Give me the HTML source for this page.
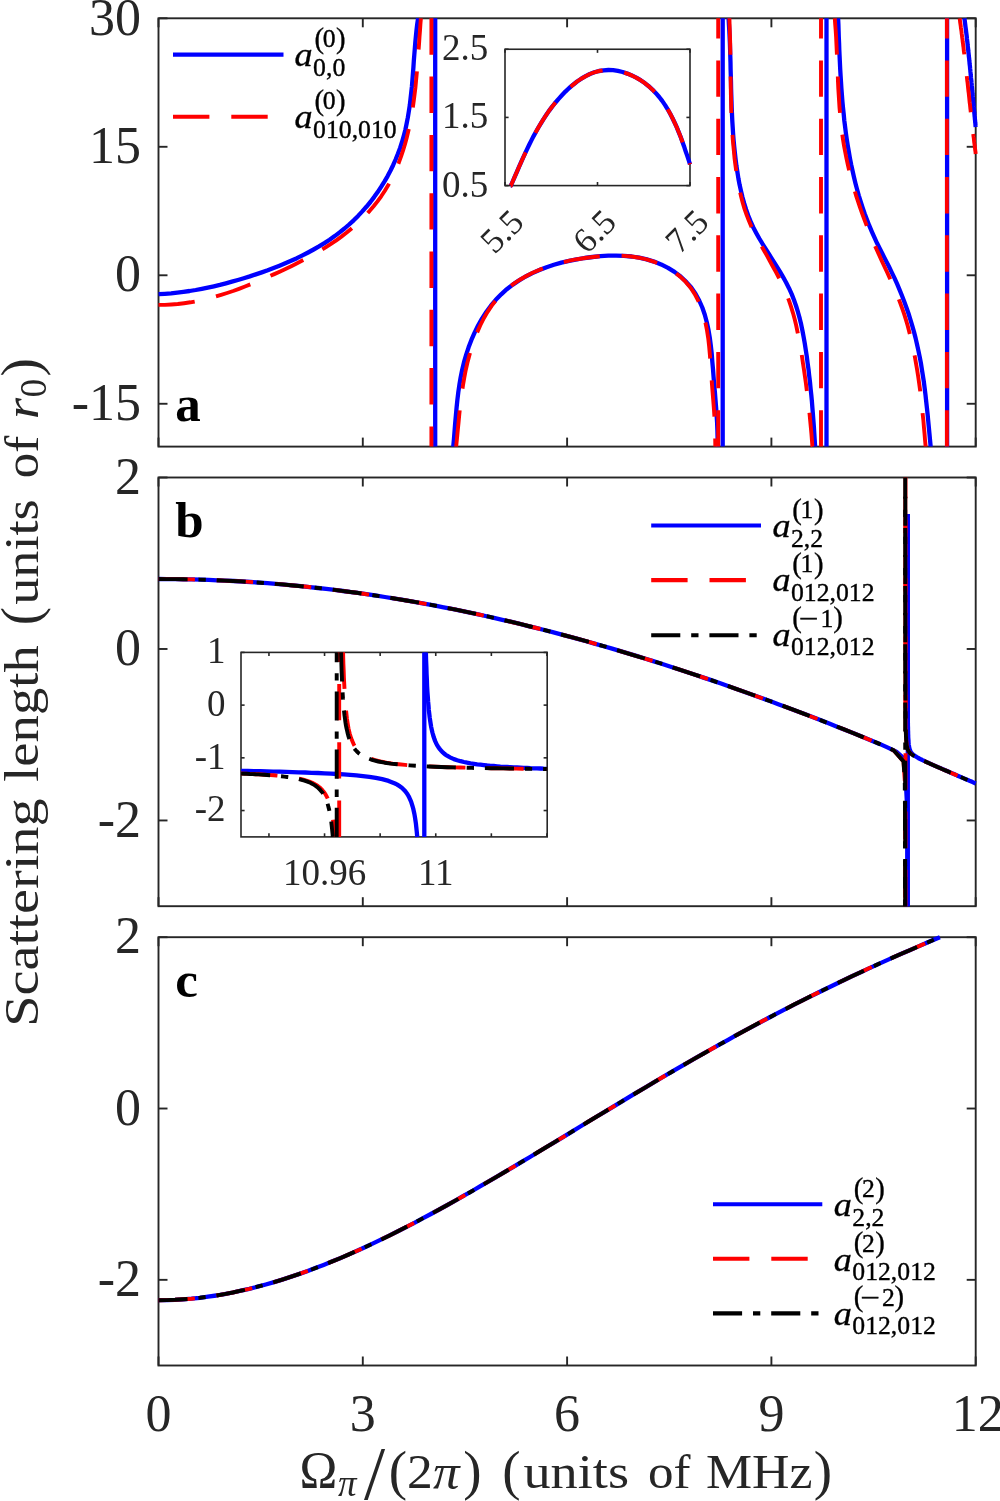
<!DOCTYPE html>
<html lang="en"><head><meta charset="utf-8"><title>Scattering length figure</title>
<style>html,body{margin:0;padding:0;background:#fff}svg{display:block;will-change:transform}text{font-family:'Liberation Serif', 'Times New Roman', Times, serif}</style></head><body>
<svg width="1000" height="1501" viewBox="0 0 1000 1501">
<rect width="1000" height="1501" fill="#fff"/>
<defs>
<clipPath id="clip_a"><rect x="155.50" y="15.30" width="823.20" height="434.30"/></clipPath>
<clipPath id="clip_b"><rect x="155.50" y="474.50" width="823.20" height="434.70"/></clipPath>
<clipPath id="clip_c"><rect x="155.50" y="934.20" width="823.20" height="434.30"/></clipPath>
<clipPath id="clip_ia"><rect x="502.50" y="46.75" width="190.00" height="141.35"/></clipPath>
<clipPath id="clip_ib"><rect x="238.50" y="649.90" width="311.20" height="189.50"/></clipPath>
</defs>
<!-- axes boxes and ticks -->
<rect x="158.50" y="18.30" width="817.20" height="428.30" fill="none" stroke="#262626" stroke-width="1.90"/>
<line x1="158.50" y1="446.60" x2="158.50" y2="437.60" stroke="#262626" stroke-width="1.90"/>
<line x1="158.50" y1="18.30" x2="158.50" y2="27.30" stroke="#262626" stroke-width="1.90"/>
<line x1="362.80" y1="446.60" x2="362.80" y2="437.60" stroke="#262626" stroke-width="1.90"/>
<line x1="362.80" y1="18.30" x2="362.80" y2="27.30" stroke="#262626" stroke-width="1.90"/>
<line x1="567.10" y1="446.60" x2="567.10" y2="437.60" stroke="#262626" stroke-width="1.90"/>
<line x1="567.10" y1="18.30" x2="567.10" y2="27.30" stroke="#262626" stroke-width="1.90"/>
<line x1="771.40" y1="446.60" x2="771.40" y2="437.60" stroke="#262626" stroke-width="1.90"/>
<line x1="771.40" y1="18.30" x2="771.40" y2="27.30" stroke="#262626" stroke-width="1.90"/>
<line x1="975.70" y1="446.60" x2="975.70" y2="437.60" stroke="#262626" stroke-width="1.90"/>
<line x1="975.70" y1="18.30" x2="975.70" y2="27.30" stroke="#262626" stroke-width="1.90"/>
<line x1="158.50" y1="403.77" x2="167.50" y2="403.77" stroke="#262626" stroke-width="1.90"/>
<line x1="975.70" y1="403.77" x2="966.70" y2="403.77" stroke="#262626" stroke-width="1.90"/>
<line x1="158.50" y1="275.28" x2="167.50" y2="275.28" stroke="#262626" stroke-width="1.90"/>
<line x1="975.70" y1="275.28" x2="966.70" y2="275.28" stroke="#262626" stroke-width="1.90"/>
<line x1="158.50" y1="146.79" x2="167.50" y2="146.79" stroke="#262626" stroke-width="1.90"/>
<line x1="975.70" y1="146.79" x2="966.70" y2="146.79" stroke="#262626" stroke-width="1.90"/>
<line x1="158.50" y1="18.30" x2="167.50" y2="18.30" stroke="#262626" stroke-width="1.90"/>
<line x1="975.70" y1="18.30" x2="966.70" y2="18.30" stroke="#262626" stroke-width="1.90"/>
<rect x="158.50" y="477.50" width="817.20" height="428.70" fill="none" stroke="#262626" stroke-width="1.90"/>
<line x1="158.50" y1="906.20" x2="158.50" y2="897.20" stroke="#262626" stroke-width="1.90"/>
<line x1="158.50" y1="477.50" x2="158.50" y2="486.50" stroke="#262626" stroke-width="1.90"/>
<line x1="362.80" y1="906.20" x2="362.80" y2="897.20" stroke="#262626" stroke-width="1.90"/>
<line x1="362.80" y1="477.50" x2="362.80" y2="486.50" stroke="#262626" stroke-width="1.90"/>
<line x1="567.10" y1="906.20" x2="567.10" y2="897.20" stroke="#262626" stroke-width="1.90"/>
<line x1="567.10" y1="477.50" x2="567.10" y2="486.50" stroke="#262626" stroke-width="1.90"/>
<line x1="771.40" y1="906.20" x2="771.40" y2="897.20" stroke="#262626" stroke-width="1.90"/>
<line x1="771.40" y1="477.50" x2="771.40" y2="486.50" stroke="#262626" stroke-width="1.90"/>
<line x1="975.70" y1="906.20" x2="975.70" y2="897.20" stroke="#262626" stroke-width="1.90"/>
<line x1="975.70" y1="477.50" x2="975.70" y2="486.50" stroke="#262626" stroke-width="1.90"/>
<line x1="158.50" y1="820.46" x2="167.50" y2="820.46" stroke="#262626" stroke-width="1.90"/>
<line x1="975.70" y1="820.46" x2="966.70" y2="820.46" stroke="#262626" stroke-width="1.90"/>
<line x1="158.50" y1="648.98" x2="167.50" y2="648.98" stroke="#262626" stroke-width="1.90"/>
<line x1="975.70" y1="648.98" x2="966.70" y2="648.98" stroke="#262626" stroke-width="1.90"/>
<line x1="158.50" y1="477.50" x2="167.50" y2="477.50" stroke="#262626" stroke-width="1.90"/>
<line x1="975.70" y1="477.50" x2="966.70" y2="477.50" stroke="#262626" stroke-width="1.90"/>
<rect x="158.50" y="937.20" width="817.20" height="428.30" fill="none" stroke="#262626" stroke-width="1.90"/>
<line x1="158.50" y1="1365.50" x2="158.50" y2="1356.50" stroke="#262626" stroke-width="1.90"/>
<line x1="158.50" y1="937.20" x2="158.50" y2="946.20" stroke="#262626" stroke-width="1.90"/>
<line x1="362.80" y1="1365.50" x2="362.80" y2="1356.50" stroke="#262626" stroke-width="1.90"/>
<line x1="362.80" y1="937.20" x2="362.80" y2="946.20" stroke="#262626" stroke-width="1.90"/>
<line x1="567.10" y1="1365.50" x2="567.10" y2="1356.50" stroke="#262626" stroke-width="1.90"/>
<line x1="567.10" y1="937.20" x2="567.10" y2="946.20" stroke="#262626" stroke-width="1.90"/>
<line x1="771.40" y1="1365.50" x2="771.40" y2="1356.50" stroke="#262626" stroke-width="1.90"/>
<line x1="771.40" y1="937.20" x2="771.40" y2="946.20" stroke="#262626" stroke-width="1.90"/>
<line x1="975.70" y1="1365.50" x2="975.70" y2="1356.50" stroke="#262626" stroke-width="1.90"/>
<line x1="975.70" y1="937.20" x2="975.70" y2="946.20" stroke="#262626" stroke-width="1.90"/>
<line x1="158.50" y1="1279.84" x2="167.50" y2="1279.84" stroke="#262626" stroke-width="1.90"/>
<line x1="975.70" y1="1279.84" x2="966.70" y2="1279.84" stroke="#262626" stroke-width="1.90"/>
<line x1="158.50" y1="1108.52" x2="167.50" y2="1108.52" stroke="#262626" stroke-width="1.90"/>
<line x1="975.70" y1="1108.52" x2="966.70" y2="1108.52" stroke="#262626" stroke-width="1.90"/>
<line x1="158.50" y1="937.20" x2="167.50" y2="937.20" stroke="#262626" stroke-width="1.90"/>
<line x1="975.70" y1="937.20" x2="966.70" y2="937.20" stroke="#262626" stroke-width="1.90"/>
<g clip-path="url(#clip_a)">
<path d="M158.6 294.2 L164.8 293.8 L171.1 293.3 L177.3 292.6 L183.4 291.8 L189.6 291.0 L195.7 290.0 L201.8 288.8 L207.8 287.6 L213.9 286.3 L219.9 284.9 L225.9 283.3 L231.9 281.7 L237.9 280.0 L243.8 278.2 L249.8 276.4 L255.8 274.4 L261.8 272.4 L267.7 270.3 L273.6 268.0 L279.5 265.7 L285.3 263.3 L291.1 260.8 L296.9 258.2 L302.5 255.4 L308.1 252.5 L313.6 249.5 L319.0 246.4 L324.4 243.1 L329.6 239.7 L334.7 236.1 L339.6 232.4 L344.5 228.5 L349.1 224.5 L353.7 220.3 L358.1 215.9 L362.3 211.4 L366.4 206.8 L370.4 202.0 L374.1 197.1 L377.7 192.1 L381.1 186.9 L384.4 181.6 L387.5 176.3 L390.4 170.8 L393.1 165.2 L395.6 159.5 L397.9 153.8 L400.1 147.9 L402.0 142.0 L403.7 136.0 L405.3 130.0 L406.6 123.8 L407.8 117.7 L408.8 111.5 L409.8 105.2 L410.5 99.0 L411.2 92.7 L411.9 86.4 L412.4 80.1 L412.9 73.8 L413.4 67.5 L413.8 61.2 L414.3 54.9 L414.8 48.7 L415.3 42.5 L415.9 36.3 L416.5 30.2 L417.2 24.2 L418.1 18.3" fill="none" stroke="#0000ff" stroke-width="4.30" stroke-linejoin="round"/>
<path d="M453.3 446.6 L453.3 446.3 L454.0 438.4 L454.6 430.6 L455.2 422.8 L455.9 415.1 L456.6 407.5 L457.4 399.8 L458.3 392.2 L459.4 384.7 L460.7 377.2 L462.2 369.7 L464.0 362.2 L466.2 354.7 L468.6 347.3 L471.4 339.9 L474.6 332.6 L478.1 325.5 L482.0 318.6 L486.3 312.0 L490.9 305.7 L495.8 299.8 L501.2 294.3 L506.8 289.2 L512.8 284.6 L519.1 280.4 L525.6 276.5 L532.4 273.1 L539.4 270.0 L546.6 267.2 L553.9 264.8 L561.4 262.6 L569.1 260.8 L576.8 259.3 L584.6 258.0 L592.5 257.0 L600.4 256.2 L608.3 255.7 L616.1 255.6 L623.9 255.8 L631.6 256.5 L639.2 257.7 L646.7 259.4 L654.0 261.6 L661.1 264.4 L668.0 267.9 L674.5 271.9 L680.6 276.5 L686.2 281.8 L691.2 287.5 L695.5 293.8 L699.2 300.5 L702.3 307.5 L704.8 314.8 L706.8 322.3 L708.5 330.0 L709.8 337.8 L710.8 345.6 L711.7 353.5 L712.3 361.5 L713.0 369.3 L713.6 377.1 L714.2 384.8 L714.9 392.3 L715.5 399.9 L716.1 407.4 L716.6 415.0 L717.1 422.6 L717.4 430.3 L717.6 438.2 L717.6 446.2 L717.6 446.6" fill="none" stroke="#0000ff" stroke-width="4.30" stroke-linejoin="round"/>
<path d="M728.6 18.3 L728.9 24.1 L729.3 30.5 L729.6 36.9 L729.9 43.3 L730.1 49.7 L730.3 56.1 L730.5 62.6 L730.6 69.0 L730.8 75.5 L731.0 82.0 L731.1 88.4 L731.3 94.9 L731.5 101.4 L731.7 107.8 L732.0 114.3 L732.3 120.8 L732.7 127.2 L733.1 133.7 L733.6 140.1 L734.2 146.5 L734.9 152.9 L735.6 159.3 L736.4 165.7 L737.4 172.1 L738.4 178.5 L739.6 184.8 L741.0 191.0 L742.5 197.3 L744.2 203.4 L746.1 209.5 L748.2 215.5 L750.6 221.4 L753.2 227.2 L756.2 232.9 L759.3 238.5 L762.6 244.0 L766.0 249.5 L769.5 255.0 L772.9 260.4 L776.4 265.9 L779.8 271.4 L783.0 276.9 L786.1 282.5 L789.0 288.2 L791.7 294.1 L794.0 300.0 L796.1 306.0 L798.0 312.2 L799.7 318.4 L801.2 324.6 L802.5 331.0 L803.7 337.3 L804.8 343.7 L805.8 350.1 L806.8 356.5 L807.6 362.9 L808.5 369.3 L809.2 375.8 L810.0 382.2 L810.6 388.6 L811.3 395.0 L811.9 401.4 L812.4 407.8 L812.9 414.2 L813.4 420.7 L813.9 427.1 L814.3 433.5 L814.7 439.9 L815.1 446.3 L815.1 446.6" fill="none" stroke="#0000ff" stroke-width="4.30" stroke-linejoin="round"/>
<path d="M838.1 18.3 L838.4 24.4 L838.6 30.7 L838.8 37.1 L839.1 43.5 L839.3 49.9 L839.6 56.3 L839.9 62.7 L840.2 69.2 L840.6 75.6 L841.0 82.0 L841.4 88.4 L841.9 94.9 L842.4 101.3 L843.0 107.7 L843.7 114.1 L844.3 120.5 L845.1 126.8 L845.9 133.2 L846.8 139.5 L847.8 145.9 L848.9 152.2 L850.0 158.5 L851.2 164.7 L852.6 171.0 L854.0 177.2 L855.5 183.4 L857.1 189.5 L858.8 195.6 L860.7 201.7 L862.7 207.8 L864.7 213.8 L867.0 219.8 L869.3 225.7 L871.8 231.6 L874.4 237.4 L877.1 243.3 L880.0 249.0 L882.9 254.8 L885.8 260.5 L888.8 266.3 L891.6 272.1 L894.4 277.9 L897.0 283.7 L899.5 289.6 L901.9 295.5 L904.2 301.5 L906.4 307.5 L908.5 313.5 L910.4 319.6 L912.2 325.7 L914.0 331.9 L915.6 338.1 L917.0 344.3 L918.4 350.6 L919.7 356.9 L920.9 363.2 L921.9 369.5 L922.9 375.9 L923.9 382.2 L924.7 388.6 L925.5 395.0 L926.2 401.4 L926.9 407.8 L927.6 414.2 L928.2 420.6 L928.8 427.0 L929.4 433.3 L930.0 439.7 L930.6 446.0 L930.6 446.6" fill="none" stroke="#0000ff" stroke-width="4.30" stroke-linejoin="round"/>
<path d="M964.4 18.3 L964.6 19.6 L964.8 21.1 L965.0 22.7 L965.2 24.3 L965.4 25.9 L965.6 27.5 L965.8 29.0 L966.0 30.6 L966.2 32.2 L966.4 33.8 L966.6 35.3 L966.8 36.9 L966.9 38.5 L967.1 40.1 L967.3 41.6 L967.5 43.2 L967.6 44.8 L967.8 46.4 L968.0 48.0 L968.2 49.5 L968.3 51.1 L968.5 52.7 L968.7 54.3 L968.8 55.9 L969.0 57.4 L969.2 59.0 L969.3 60.6 L969.5 62.2 L969.6 63.8 L969.8 65.3 L970.0 66.9 L970.1 68.5 L970.3 70.1 L970.4 71.7 L970.6 73.2 L970.7 74.8 L970.9 76.4 L971.0 78.0 L971.2 79.6 L971.4 81.1 L971.5 82.7 L971.7 84.3 L971.8 85.9 L972.0 87.5 L972.1 89.1 L972.2 90.6 L972.4 92.2 L972.5 93.8 L972.7 95.4 L972.8 97.0 L973.0 98.5 L973.1 100.1 L973.3 101.7 L973.4 103.3 L973.6 104.9 L973.7 106.4 L973.9 108.0 L974.0 109.6 L974.2 111.2 L974.3 112.8 L974.5 114.4 L974.6 115.9 L974.8 117.5 L974.9 119.1 L975.1 120.7 L975.2 122.3 L975.4 123.8 L975.5 125.4 L975.7 127.0" fill="none" stroke="#0000ff" stroke-width="4.30" stroke-linejoin="round"/>
<line x1="435.2" y1="18.3" x2="435.2" y2="446.6" stroke="#0000ff" stroke-width="4.30"/>
<line x1="722.7" y1="18.3" x2="722.7" y2="446.6" stroke="#0000ff" stroke-width="4.30"/>
<line x1="826.5" y1="18.3" x2="826.5" y2="446.6" stroke="#0000ff" stroke-width="4.30"/>
<line x1="947.1" y1="18.3" x2="947.1" y2="446.6" stroke="#0000ff" stroke-width="4.30"/>
<path d="M158.5 304.9 L164.9 304.9 L171.4 304.5 L177.8 304.0 L184.1 303.2 L190.4 302.3 L196.7 301.2 L202.8 299.8 L209.0 298.4 L215.1 296.7 L221.1 294.9 L227.1 293.0 L233.1 291.0 L239.0 288.8 L245.0 286.5 L250.9 284.2 L256.7 281.8 L262.6 279.2 L268.5 276.7 L274.3 274.1 L280.2 271.4 L286.0 268.7 L291.8 265.9 L297.6 263.0 L303.3 260.1 L309.0 257.1 L314.6 253.9 L320.2 250.7 L325.6 247.4 L331.0 243.9 L336.3 240.3 L341.4 236.6 L346.4 232.8 L351.3 228.7 L356.1 224.6 L360.7 220.2 L365.2 215.7 L369.5 211.1 L373.6 206.3 L377.5 201.4 L381.2 196.3 L384.7 191.0 L388.0 185.6 L391.0 180.1 L393.8 174.4 L396.4 168.6 L398.8 162.7 L401.0 156.7 L403.0 150.7 L404.9 144.5 L406.6 138.3 L408.1 132.1 L409.5 125.8 L410.8 119.5 L411.9 113.2 L412.9 106.9 L413.8 100.5 L414.6 94.2 L415.4 87.8 L416.0 81.4 L416.6 75.0 L417.2 68.7 L417.7 62.3 L418.2 55.9 L418.6 49.6 L419.1 43.2 L419.5 36.9 L420.0 30.6 L420.4 24.4 L420.9 18.3" fill="none" stroke="#ff0000" stroke-width="3.90" stroke-linejoin="round" stroke-dasharray="36.4 21.9"/>
<path d="M456.2 446.6 L456.2 446.3 L457.0 438.4 L457.7 430.7 L458.5 423.0 L459.2 415.3 L460.0 407.7 L460.9 400.2 L461.9 392.7 L463.0 385.2 L464.3 377.7 L465.7 370.2 L467.4 362.7 L469.4 355.2 L471.6 347.7 L474.1 340.2 L477.0 332.8 L480.2 325.5 L483.7 318.5 L487.6 311.8 L491.9 305.4 L496.6 299.4 L501.7 293.9 L507.3 288.9 L513.1 284.2 L519.4 280.0 L525.9 276.2 L532.6 272.8 L539.7 269.7 L546.9 267.0 L554.3 264.6 L561.8 262.5 L569.5 260.7 L577.2 259.2 L585.0 258.0 L592.9 257.0 L600.7 256.2 L608.5 255.7 L616.3 255.6 L624.0 255.9 L631.6 256.5 L639.1 257.7 L646.5 259.3 L653.7 261.6 L660.8 264.4 L667.6 267.8 L674.1 271.9 L680.2 276.6 L685.7 281.9 L690.6 287.7 L694.8 294.1 L698.3 300.9 L701.2 308.0 L703.5 315.3 L705.5 322.8 L707.0 330.4 L708.2 338.1 L709.1 346.0 L709.8 353.8 L710.4 361.6 L710.9 369.4 L711.5 377.2 L712.0 384.8 L712.6 392.3 L713.2 399.8 L713.8 407.3 L714.3 414.9 L714.7 422.5 L715.0 430.2 L715.2 438.0 L715.3 446.0 L715.3 446.6" fill="none" stroke="#ff0000" stroke-width="3.90" stroke-linejoin="round" stroke-dasharray="36.4 21.9"/>
<path d="M729.4 18.3 L729.6 24.1 L729.8 30.5 L730.0 36.8 L730.2 43.2 L730.3 49.6 L730.4 56.0 L730.5 62.4 L730.6 68.9 L730.6 75.3 L730.7 81.7 L730.8 88.2 L730.9 94.6 L731.1 101.1 L731.2 107.5 L731.4 113.9 L731.7 120.4 L732.0 126.8 L732.4 133.2 L732.8 139.6 L733.4 146.0 L734.0 152.4 L734.6 158.8 L735.4 165.1 L736.3 171.5 L737.3 177.8 L738.4 184.1 L739.7 190.4 L741.1 196.6 L742.7 202.8 L744.5 208.9 L746.6 214.9 L748.9 220.8 L751.4 226.7 L754.1 232.4 L757.1 238.1 L760.2 243.7 L763.3 249.3 L766.5 254.9 L769.6 260.6 L772.7 266.2 L775.8 271.8 L778.8 277.5 L781.6 283.3 L784.3 289.1 L786.8 294.9 L789.1 300.9 L791.1 306.9 L793.0 313.1 L794.7 319.2 L796.2 325.5 L797.5 331.8 L798.8 338.1 L800.0 344.5 L801.0 350.8 L802.1 357.2 L803.0 363.5 L804.0 369.9 L804.9 376.2 L805.8 382.6 L806.6 388.9 L807.4 395.3 L808.2 401.6 L808.9 408.0 L809.6 414.4 L810.2 420.7 L810.8 427.1 L811.4 433.5 L811.9 439.9 L812.4 446.3 L812.5 446.6" fill="none" stroke="#ff0000" stroke-width="3.90" stroke-linejoin="round" stroke-dasharray="36.4 21.9"/>
<path d="M834.8 18.3 L835.2 24.4 L835.7 30.7 L836.1 37.0 L836.4 43.4 L836.7 49.8 L837.0 56.2 L837.2 62.6 L837.5 69.0 L837.8 75.4 L838.0 81.9 L838.3 88.3 L838.7 94.7 L839.1 101.1 L839.5 107.5 L840.1 113.9 L840.7 120.3 L841.3 126.7 L842.1 133.1 L843.0 139.4 L844.0 145.7 L845.2 152.0 L846.4 158.2 L847.8 164.5 L849.2 170.7 L850.8 176.9 L852.4 183.0 L854.2 189.2 L856.0 195.3 L858.0 201.3 L860.0 207.4 L862.1 213.4 L864.3 219.4 L866.6 225.4 L869.0 231.3 L871.4 237.3 L873.9 243.2 L876.4 249.0 L879.1 254.9 L881.7 260.7 L884.4 266.5 L887.1 272.3 L889.8 278.1 L892.4 283.9 L895.0 289.8 L897.4 295.7 L899.7 301.6 L901.9 307.6 L904.0 313.6 L905.9 319.7 L907.7 325.8 L909.3 332.0 L910.9 338.2 L912.3 344.4 L913.6 350.7 L914.9 357.0 L916.0 363.3 L917.1 369.6 L918.1 376.0 L919.0 382.3 L919.9 388.7 L920.7 395.1 L921.4 401.5 L922.1 407.8 L922.7 414.2 L923.4 420.6 L923.9 426.9 L924.5 433.3 L925.0 439.6 L925.6 446.0 L925.6 446.6" fill="none" stroke="#ff0000" stroke-width="3.90" stroke-linejoin="round" stroke-dasharray="36.4 21.9"/>
<path d="M959.6 18.3 L959.9 20.0 L960.1 21.9 L960.4 23.9 L960.7 25.9 L960.9 27.8 L961.2 29.8 L961.5 31.8 L961.7 33.7 L962.0 35.7 L962.2 37.7 L962.5 39.6 L962.7 41.6 L963.0 43.6 L963.2 45.6 L963.5 47.5 L963.7 49.5 L963.9 51.5 L964.2 53.4 L964.4 55.4 L964.6 57.4 L964.9 59.3 L965.1 61.3 L965.3 63.3 L965.6 65.3 L965.8 67.2 L966.0 69.2 L966.2 71.2 L966.5 73.1 L966.7 75.1 L966.9 77.1 L967.1 79.1 L967.3 81.0 L967.6 83.0 L967.8 85.0 L968.0 87.0 L968.2 88.9 L968.4 90.9 L968.7 92.9 L968.9 94.8 L969.1 96.8 L969.3 98.8 L969.5 100.8 L969.7 102.7 L970.0 104.7 L970.2 106.7 L970.4 108.7 L970.6 110.6 L970.8 112.6 L971.1 114.6 L971.3 116.5 L971.5 118.5 L971.7 120.5 L972.0 122.5 L972.2 124.4 L972.4 126.4 L972.6 128.4 L972.9 130.4 L973.1 132.3 L973.3 134.3 L973.5 136.3 L973.8 138.2 L974.0 140.2 L974.2 142.2 L974.5 144.2 L974.7 146.1 L975.0 148.1 L975.2 150.1 L975.5 152.0 L975.7 154.0" fill="none" stroke="#ff0000" stroke-width="3.90" stroke-linejoin="round" stroke-dasharray="36.4 21.9"/>
<path d="M431.4 18.3 L431.4 446.6" fill="none" stroke="#ff0000" stroke-width="3.90" stroke-dasharray="36.4 21.9"/>
<path d="M718.2 446.6 L718.2 18.3" fill="none" stroke="#ff0000" stroke-width="3.90" stroke-dasharray="36.4 21.9"/>
<path d="M821.0 446.6 L821.0 18.3" fill="none" stroke="#ff0000" stroke-width="3.90" stroke-dasharray="36.4 21.9"/>
<path d="M946.9 446.6 L946.9 18.3" fill="none" stroke="#ff0000" stroke-width="3.90" stroke-dasharray="36.4 21.9"/>
</g>
<rect x="505.00" y="49.25" width="185.00" height="136.35" fill="#fff" stroke="#262626" stroke-width="1.60"/>
<line x1="505.00" y1="185.60" x2="505.00" y2="182.00" stroke="#262626" stroke-width="1.60"/>
<line x1="505.00" y1="49.25" x2="505.00" y2="52.85" stroke="#262626" stroke-width="1.60"/>
<line x1="597.50" y1="185.60" x2="597.50" y2="182.00" stroke="#262626" stroke-width="1.60"/>
<line x1="597.50" y1="49.25" x2="597.50" y2="52.85" stroke="#262626" stroke-width="1.60"/>
<line x1="690.00" y1="185.60" x2="690.00" y2="182.00" stroke="#262626" stroke-width="1.60"/>
<line x1="690.00" y1="49.25" x2="690.00" y2="52.85" stroke="#262626" stroke-width="1.60"/>
<line x1="505.00" y1="49.25" x2="508.60" y2="49.25" stroke="#262626" stroke-width="1.60"/>
<line x1="690.00" y1="49.25" x2="686.40" y2="49.25" stroke="#262626" stroke-width="1.60"/>
<line x1="505.00" y1="117.42" x2="508.60" y2="117.42" stroke="#262626" stroke-width="1.60"/>
<line x1="690.00" y1="117.42" x2="686.40" y2="117.42" stroke="#262626" stroke-width="1.60"/>
<line x1="505.00" y1="185.60" x2="508.60" y2="185.60" stroke="#262626" stroke-width="1.60"/>
<line x1="690.00" y1="185.60" x2="686.40" y2="185.60" stroke="#262626" stroke-width="1.60"/>
<g clip-path="url(#clip_ia)">
<path d="M510.8 185.6 L510.9 185.6 L512.9 181.0 L514.9 176.4 L516.9 171.8 L518.9 167.2 L520.9 162.7 L522.9 158.2 L525.0 153.7 L527.1 149.2 L529.2 144.8 L531.4 140.4 L533.6 136.1 L536.0 131.8 L538.4 127.5 L540.9 123.3 L543.5 119.1 L546.2 115.0 L549.0 110.9 L552.0 106.9 L555.1 103.0 L558.4 99.1 L561.9 95.3 L565.4 91.6 L569.2 88.0 L573.1 84.7 L577.1 81.5 L581.3 78.7 L585.6 76.2 L589.9 74.0 L594.4 72.3 L599.0 71.0 L603.7 70.3 L608.4 70.0 L613.1 70.2 L617.9 70.9 L622.6 72.0 L627.3 73.6 L631.8 75.4 L636.3 77.7 L640.6 80.2 L644.8 83.1 L648.7 86.2 L652.4 89.6 L655.9 93.2 L659.2 97.0 L662.2 100.9 L665.1 105.1 L667.7 109.3 L670.2 113.7 L672.5 118.2 L674.7 122.8 L676.8 127.4 L678.7 132.1 L680.6 136.8 L682.3 141.5 L684.0 146.2 L685.5 150.8 L687.1 155.4 L688.6 159.9 L690.0 164.3" fill="none" stroke="#0000ff" stroke-width="4.30" stroke-linejoin="round"/>
<path d="M510.8 185.6 L510.9 185.6 L512.9 181.0 L514.9 176.4 L516.9 171.8 L518.9 167.2 L520.9 162.7 L522.9 158.2 L525.0 153.7 L527.1 149.2 L529.2 144.8 L531.4 140.4 L533.6 136.1 L536.0 131.8 L538.4 127.5 L540.9 123.3 L543.5 119.1 L546.2 115.0 L549.0 110.9 L552.0 106.9 L555.1 103.0 L558.4 99.1 L561.9 95.3 L565.4 91.6 L569.2 88.0 L573.1 84.7 L577.1 81.5 L581.3 78.7 L585.6 76.2 L589.9 74.0 L594.4 72.3 L599.0 71.0 L603.7 70.3 L608.4 70.0 L613.1 70.2 L617.9 70.9 L622.6 72.0 L627.3 73.6 L631.8 75.4 L636.3 77.7 L640.6 80.2 L644.8 83.1 L648.7 86.2 L652.4 89.6 L655.9 93.2 L659.2 97.0 L662.2 100.9 L665.1 105.1 L667.7 109.3 L670.2 113.7 L672.5 118.2 L674.7 122.8 L676.8 127.4 L678.7 132.1 L680.6 136.8 L682.3 141.5 L684.0 146.2 L685.5 150.8 L687.1 155.4 L688.6 159.9 L690.0 164.3" fill="none" stroke="#ff0000" stroke-width="3.90" stroke-linejoin="round" stroke-dasharray="36.4 21.9"/>
</g>
<g clip-path="url(#clip_b)">
<path d="M158.5 579.0 L166.9 579.1 L175.3 579.1 L183.7 579.3 L192.0 579.4 L200.4 579.7 L208.8 579.9 L217.2 580.3 L225.6 580.6 L234.0 581.0 L242.3 581.5 L250.7 582.0 L259.1 582.6 L267.5 583.2 L275.9 583.9 L284.3 584.6 L292.6 585.4 L301.0 586.2 L309.4 587.1 L317.8 588.0 L326.2 588.9 L334.6 589.9 L343.0 591.0 L351.3 592.1 L359.7 593.2 L368.1 594.4 L376.5 595.7 L384.9 597.0 L393.3 598.3 L401.6 599.7 L410.0 601.1 L418.4 602.6 L426.8 604.1 L435.2 605.7 L443.6 607.3 L452.0 608.9 L460.3 610.6 L468.7 612.4 L477.1 614.2 L485.5 616.0 L493.9 617.9 L502.3 619.8 L510.6 621.7 L519.0 623.7 L527.4 625.8 L535.8 627.9 L544.2 630.0 L552.6 632.1 L560.9 634.3 L569.3 636.6 L577.7 638.9 L586.1 641.2 L594.5 643.6 L602.9 646.0 L611.3 648.4 L619.6 650.9 L628.0 653.4 L636.4 655.9 L644.8 658.5 L653.2 661.1 L661.6 663.8 L669.9 666.5 L678.3 669.2 L686.7 672.0 L695.1 674.7 L703.5 677.6 L711.9 680.4 L720.3 683.3 L728.6 686.2 L737.0 689.2 L745.4 692.2 L753.8 695.2 L762.2 698.2 L770.6 701.3 L778.9 704.4 L787.3 707.5 L795.7 710.7 L804.1 713.8 L812.5 717.1 L820.9 720.3 L829.2 723.6 L837.6 726.9 L846.0 730.2 L854.4 733.6 L862.8 737.0 L871.2 740.4 L879.6 743.9 L887.9 747.6 L896.3 751.6 L904.7 759.0 L907.2 808.3 L907.2 822.2 L907.3 839.6 L907.3 861.6 L907.3 889.2 L907.3 906.2" fill="none" stroke="#0000ff" stroke-width="4.30" stroke-linejoin="round"/>
<path d="M907.8 906.2 L907.8 514.0" fill="none" stroke="#0000ff" stroke-width="4.30" stroke-linejoin="round"/>
<path d="M907.5 514.0 L907.5 527.2 L907.5 545.0 L907.5 561.4 L907.5 576.6 L907.5 590.5 L907.5 603.4 L907.5 615.3 L907.5 626.2 L907.6 636.3 L907.6 645.5 L907.6 654.1 L907.6 662.0 L907.6 669.3 L907.6 676.0 L907.6 682.2 L907.6 687.9 L907.7 693.1 L907.7 698.0 L907.7 702.4 L907.7 706.5 L907.8 710.3 L907.8 713.8 L907.8 717.1 L907.8 720.1 L907.9 722.8 L907.9 725.3 L908.0 727.7 L908.0 729.8 L908.1 731.8 L908.1 733.7 L908.2 735.4 L908.2 736.9 L908.3 738.4 L908.4 739.7 L908.5 741.0 L908.5 742.1 L908.6 743.2 L908.7 744.2 L908.8 745.1 L909.0 746.0 L909.1 746.8 L909.2 747.5 L909.4 748.2 L909.6 748.9 L909.7 749.5 L909.9 750.0 L910.2 750.6 L910.4 751.1 L910.6 751.6 L910.9 752.1 L911.2 752.5 L911.5 752.9 L911.9 753.4 L912.2 753.8 L912.7 754.2 L913.1 754.6 L913.6 755.0 L914.1 755.4 L914.7 755.8 L915.3 756.2 L916.0 756.6 L916.7 757.1 L917.5 757.5 L918.3 758.0 L919.2 758.5 L920.2 759.0 L921.3 759.5 L922.5 760.1 L923.8 760.7 L925.2 761.4 L926.7 762.1 L928.3 762.8 L930.1 763.6 L932.0 764.5 L934.1 765.4 L936.4 766.4 L938.8 767.5 L941.5 768.6 L944.6 770.0 L947.7 771.3 L950.8 772.7 L953.9 774.0 L957.0 775.4 L960.1 776.7 L963.3 778.1 L966.4 779.4 L969.5 780.8 L972.6 782.1 L975.7 783.5" fill="none" stroke="#0000ff" stroke-width="4.30" stroke-linejoin="round"/>
<path d="M158.5 579.0 L166.8 579.1 L175.0 579.1 L183.3 579.3 L191.5 579.4 L199.8 579.6 L208.1 579.9 L216.3 580.2 L224.6 580.6 L232.8 581.0 L241.1 581.4 L249.4 581.9 L257.6 582.5 L265.9 583.1 L274.1 583.8 L282.4 584.4 L290.7 585.2 L298.9 586.0 L307.2 586.8 L315.4 587.7 L323.7 588.6 L332.0 589.6 L340.2 590.6 L348.5 591.7 L356.7 592.8 L365.0 594.0 L373.3 595.2 L381.5 596.4 L389.8 597.7 L398.1 599.1 L406.3 600.5 L414.6 601.9 L422.8 603.4 L431.1 604.9 L439.4 606.5 L447.6 608.1 L455.9 609.7 L464.1 611.4 L472.4 613.1 L480.7 614.9 L488.9 616.7 L497.2 618.6 L505.4 620.5 L513.7 622.5 L522.0 624.4 L530.2 626.5 L538.5 628.5 L546.7 630.6 L555.0 632.8 L563.3 635.0 L571.5 637.2 L579.8 639.4 L588.0 641.7 L596.3 644.1 L604.6 646.4 L612.8 648.9 L621.1 651.3 L629.3 653.8 L637.6 656.3 L645.9 658.8 L654.1 661.4 L662.4 664.0 L670.6 666.7 L678.9 669.4 L687.2 672.1 L695.4 674.8 L703.7 677.6 L711.9 680.4 L720.2 683.3 L728.5 686.2 L736.7 689.1 L745.0 692.0 L753.2 695.0 L761.5 698.0 L769.8 701.0 L778.0 704.0 L786.3 707.1 L794.5 710.2 L802.8 713.4 L811.1 716.5 L819.3 719.7 L827.6 722.9 L835.9 726.2 L844.1 729.4 L852.4 732.7 L860.6 736.1 L868.9 739.5 L877.2 742.9 L885.4 746.5 L893.7 750.4 L903.5 761.4 L904.7 779.4 L904.8 785.4 L904.9 792.9 L905.0 802.0 L905.0 813.2 L905.1 827.1 L905.1 844.2 L905.1 865.2 L905.1 891.1 L905.2 906.2" fill="none" stroke="#ff0000" stroke-width="3.90" stroke-linejoin="round" stroke-dasharray="36.4 21.9"/>
<path d="M905.5 906.2 L905.5 477.5" fill="none" stroke="#ff0000" stroke-width="3.90" stroke-linejoin="round" stroke-dasharray="36.4 21.9"/>
<path d="M905.3 496.7 L905.3 516.8 L905.3 535.4 L905.3 552.5 L905.3 568.3 L905.3 582.8 L905.3 596.2 L905.3 608.6 L905.4 619.9 L905.4 630.4 L905.4 640.1 L905.4 649.0 L905.4 657.2 L905.4 664.8 L905.4 671.8 L905.4 678.2 L905.5 684.2 L905.5 689.6 L905.5 694.7 L905.5 699.3 L905.5 703.6 L905.6 707.6 L905.6 711.2 L905.6 714.6 L905.6 717.7 L905.7 720.6 L905.7 723.2 L905.7 725.6 L905.8 727.9 L905.8 729.9 L905.9 731.9 L905.9 733.6 L906.0 735.3 L906.1 736.8 L906.1 738.2 L906.2 739.5 L906.3 740.7 L906.4 741.8 L906.5 742.8 L906.6 743.7 L906.7 744.6 L906.8 745.4 L906.9 746.2 L907.1 746.9 L907.2 747.6 L907.4 748.2 L907.6 748.8 L907.8 749.4 L908.0 749.9 L908.2 750.4 L908.5 750.9 L908.7 751.3 L909.0 751.8 L909.3 752.2 L909.7 752.6 L910.1 753.0 L910.5 753.4 L910.9 753.8 L911.4 754.2 L911.9 754.6" fill="none" stroke="#ff0000" stroke-width="3.90" stroke-linejoin="round" stroke-dasharray="36.4 21.9"/>
<path d="M911.9 754.6 L912.5 755.0 L913.1 755.4 L913.8 755.8 L914.5 756.2 L915.3 756.7 L916.1 757.1 L917.1 757.6 L918.1 758.1 L919.1 758.7 L920.3 759.2 L921.6 759.9 L923.0 760.5 L924.5 761.2 L926.1 761.9 L927.9 762.7 L929.8 763.6 L931.9 764.5 L934.2 765.5 L936.6 766.6 L939.3 767.7 L942.6 769.2 L945.9 770.6 L949.2 772.0 L952.5 773.5 L955.8 774.9 L959.2 776.3 L962.5 777.7 L965.8 779.2 L969.1 780.6 L972.4 782.0 L975.7 783.5" fill="none" stroke="#ff0000" stroke-width="3.90" stroke-linejoin="round" stroke-dasharray="36.4 21.9" stroke-dashoffset="44.4"/>
<path d="M158.5 579.0 L166.8 579.1 L175.0 579.1 L183.3 579.3 L191.5 579.4 L199.8 579.6 L208.1 579.9 L216.3 580.2 L224.6 580.6 L232.8 581.0 L241.1 581.4 L249.4 581.9 L257.6 582.5 L265.9 583.1 L274.1 583.8 L282.4 584.4 L290.7 585.2 L298.9 586.0 L307.2 586.8 L315.4 587.7 L323.7 588.6 L332.0 589.6 L340.2 590.6 L348.5 591.7 L356.7 592.8 L365.0 594.0 L373.3 595.2 L381.5 596.4 L389.8 597.7 L398.0 599.1 L406.3 600.5 L414.6 601.9 L422.8 603.4 L431.1 604.9 L439.3 606.5 L447.6 608.1 L455.9 609.7 L464.1 611.4 L472.4 613.1 L480.6 614.9 L488.9 616.7 L497.2 618.6 L505.4 620.5 L513.7 622.4 L521.9 624.4 L530.2 626.5 L538.5 628.5 L546.7 630.6 L555.0 632.8 L563.2 635.0 L571.5 637.2 L579.8 639.4 L588.0 641.7 L596.3 644.1 L604.5 646.4 L612.8 648.8 L621.1 651.3 L629.3 653.8 L637.6 656.3 L645.8 658.8 L654.1 661.4 L662.4 664.0 L670.6 666.7 L678.9 669.4 L687.1 672.1 L695.4 674.8 L703.6 677.6 L711.9 680.4 L720.2 683.3 L728.4 686.2 L736.7 689.1 L744.9 692.0 L753.2 695.0 L761.5 698.0 L769.7 701.0 L778.0 704.0 L786.2 707.1 L794.5 710.2 L802.8 713.3 L811.0 716.5 L819.3 719.7 L827.5 722.9 L835.8 726.1 L844.1 729.4 L852.3 732.7 L860.6 736.1 L868.8 739.5 L877.1 742.9 L885.4 746.5 L893.6 750.3 L903.5 761.4 L904.7 779.4 L904.8 785.4 L904.8 792.8 L904.9 802.0 L905.0 813.2 L905.0 827.1 L905.0 844.1 L905.1 865.2 L905.1 891.1 L905.1 906.2" fill="none" stroke="#000000" stroke-width="3.90" stroke-linejoin="round" stroke-dasharray="29.1 10.9 7.3 10.9"/>
<path d="M905.2 906.2 L905.2 477.5" fill="none" stroke="#000000" stroke-width="3.90" stroke-linejoin="round" stroke-dasharray="29.1 10.9 7.3 10.9"/>
<path d="M905.3 496.7 L905.3 516.8 L905.3 535.4 L905.3 552.5 L905.3 568.3 L905.3 582.8 L905.3 596.2 L905.3 608.5 L905.3 619.9 L905.3 630.4 L905.3 640.1 L905.3 649.0 L905.3 657.2 L905.4 664.8 L905.4 671.8 L905.4 678.2 L905.4 684.1 L905.4 689.6 L905.4 694.7 L905.5 699.3 L905.5 703.6 L905.5 707.6 L905.5 711.2 L905.6 714.6 L905.6 717.7 L905.6 720.5 L905.7 723.2 L905.7 725.6 L905.7 727.9 L905.8 729.9 L905.8 731.8 L905.9 733.6 L905.9 735.2 L906.0 736.8 L906.1 738.1 L906.1 739.4 L906.2 740.6 L906.3 741.7 L906.4 742.8 L906.5 743.7 L906.6 744.6 L906.7 745.4 L906.9 746.2 L907.0 746.9 L907.2 747.6 L907.3 748.2 L907.5 748.8 L907.7 749.4 L907.9 749.9 L908.2 750.4 L908.4 750.8 L908.7 751.3 L909.0 751.7 L909.3 752.2 L909.6 752.6 L910.0 753.0 L910.4 753.4 L910.9 753.8 L911.4 754.2" fill="none" stroke="#000000" stroke-width="3.90" stroke-linejoin="round" stroke-dasharray="29.1 10.9 7.3 10.9"/>
<path d="M911.4 754.2 L911.9 754.6 L912.4 755.0 L913.1 755.4 L913.7 755.8 L914.4 756.2 L915.2 756.7 L916.1 757.1 L917.0 757.6 L918.0 758.1 L919.1 758.7 L920.3 759.2 L921.6 759.8 L922.9 760.5 L924.5 761.2 L926.1 761.9 L927.9 762.7 L929.8 763.6 L931.9 764.5 L934.1 765.5 L936.6 766.6 L939.3 767.7 L942.6 769.2 L945.9 770.6 L949.2 772.0 L952.5 773.4 L955.8 774.9 L959.1 776.3 L962.4 777.7 L965.8 779.2 L969.1 780.6 L972.4 782.0 L975.7 783.5" fill="none" stroke="#000000" stroke-width="3.90" stroke-linejoin="round" stroke-dasharray="29.1 10.9 7.3 10.9" stroke-dashoffset="43.7"/>
</g>
<rect x="241.00" y="652.40" width="306.20" height="184.50" fill="#fff" stroke="#262626" stroke-width="1.60"/>
<line x1="268.95" y1="836.90" x2="268.95" y2="833.30" stroke="#262626" stroke-width="1.60"/>
<line x1="268.95" y1="652.40" x2="268.95" y2="656.00" stroke="#262626" stroke-width="1.60"/>
<line x1="324.55" y1="836.90" x2="324.55" y2="833.30" stroke="#262626" stroke-width="1.60"/>
<line x1="324.55" y1="652.40" x2="324.55" y2="656.00" stroke="#262626" stroke-width="1.60"/>
<line x1="380.15" y1="836.90" x2="380.15" y2="833.30" stroke="#262626" stroke-width="1.60"/>
<line x1="380.15" y1="652.40" x2="380.15" y2="656.00" stroke="#262626" stroke-width="1.60"/>
<line x1="435.75" y1="836.90" x2="435.75" y2="833.30" stroke="#262626" stroke-width="1.60"/>
<line x1="435.75" y1="652.40" x2="435.75" y2="656.00" stroke="#262626" stroke-width="1.60"/>
<line x1="491.35" y1="836.90" x2="491.35" y2="833.30" stroke="#262626" stroke-width="1.60"/>
<line x1="491.35" y1="652.40" x2="491.35" y2="656.00" stroke="#262626" stroke-width="1.60"/>
<line x1="546.95" y1="836.90" x2="546.95" y2="833.30" stroke="#262626" stroke-width="1.60"/>
<line x1="546.95" y1="652.40" x2="546.95" y2="656.00" stroke="#262626" stroke-width="1.60"/>
<line x1="241.00" y1="652.40" x2="244.60" y2="652.40" stroke="#262626" stroke-width="1.60"/>
<line x1="547.20" y1="652.40" x2="543.60" y2="652.40" stroke="#262626" stroke-width="1.60"/>
<line x1="241.00" y1="705.11" x2="244.60" y2="705.11" stroke="#262626" stroke-width="1.60"/>
<line x1="547.20" y1="705.11" x2="543.60" y2="705.11" stroke="#262626" stroke-width="1.60"/>
<line x1="241.00" y1="757.83" x2="244.60" y2="757.83" stroke="#262626" stroke-width="1.60"/>
<line x1="547.20" y1="757.83" x2="543.60" y2="757.83" stroke="#262626" stroke-width="1.60"/>
<line x1="241.00" y1="810.54" x2="244.60" y2="810.54" stroke="#262626" stroke-width="1.60"/>
<line x1="547.20" y1="810.54" x2="543.60" y2="810.54" stroke="#262626" stroke-width="1.60"/>
<g clip-path="url(#clip_ib)">
<path d="M241.1 770.8 L247.6 770.9 L254.0 771.1 L260.4 771.2 L266.8 771.4 L273.2 771.6 L279.6 771.7 L286.0 771.9 L292.4 772.1 L298.8 772.3 L305.3 772.5 L311.7 772.8 L318.1 773.0 L324.5 773.3 L330.9 773.6 L337.3 774.0 L343.7 774.4 L350.1 774.9 L356.5 775.4 L362.9 776.1 L369.4 776.9 L375.8 777.9 L382.2 779.2 L388.6 780.9 L395.0 783.5 L396.8 784.4 L398.4 785.4 L400.0 786.4 L401.5 787.5 L402.8 788.7 L404.1 790.0 L405.3 791.3 L406.4 792.8 L407.5 794.3 L408.5 796.0 L409.4 797.8 L410.2 799.6 L411.1 801.6 L411.8 803.8 L412.5 806.1 L413.2 808.5 L413.8 811.2 L414.4 814.0 L414.9 816.9 L415.4 820.1 L415.9 823.5 L416.3 827.2 L416.7 831.1 L417.1 835.2 L417.3 836.9" fill="none" stroke="#0000ff" stroke-width="4.30" stroke-linejoin="round"/>
<path d="M424.3 836.9 L424.3 652.4" fill="none" stroke="#0000ff" stroke-width="4.30" stroke-linejoin="round"/>
<path d="M425.9 652.4 L425.9 653.0 L426.1 660.5 L426.4 667.6 L426.6 674.2 L426.9 680.4 L427.1 686.2 L427.4 691.6 L427.8 696.6 L428.1 701.4 L428.5 705.8 L428.8 710.0 L429.3 713.9 L429.7 717.5 L430.2 720.9 L430.7 724.1 L431.2 727.1 L431.8 729.9 L432.4 732.5 L433.1 735.0 L433.8 737.3 L434.5 739.4 L435.3 741.4 L436.2 743.3 L437.1 745.1 L438.1 746.7 L439.2 748.3 L440.3 749.7 L441.5 751.1 L442.8 752.4 L444.1 753.5 L445.6 754.7 L447.1 755.7 L448.8 756.7 L450.6 757.6 L453.9 759.1 L457.2 760.2 L460.6 761.2 L463.9 762.0 L467.2 762.7 L470.5 763.3 L473.9 763.8 L477.2 764.3 L480.5 764.7 L483.8 765.1 L487.1 765.5 L490.5 765.8 L493.8 766.0 L497.1 766.3 L500.4 766.6 L503.8 766.8 L507.1 767.0 L510.4 767.2 L513.7 767.4 L517.0 767.5 L520.4 767.7 L523.7 767.9 L527.0 768.0 L530.3 768.2 L533.7 768.3 L537.0 768.4 L540.3 768.5 L543.6 768.7 L546.9 768.8" fill="none" stroke="#0000ff" stroke-width="4.30" stroke-linejoin="round"/>
<path d="M241.1 773.5 L244.1 773.6 L247.1 773.8 L250.0 773.9 L253.0 774.0 L256.0 774.2 L258.9 774.3 L261.9 774.5 L264.9 774.7 L267.8 774.9 L270.8 775.1 L273.8 775.3 L276.7 775.6 L279.7 775.9 L282.7 776.2 L285.6 776.5 L288.6 776.9 L291.6 777.3 L294.5 777.8 L297.5 778.4 L300.5 779.0 L303.4 779.7 L306.4 780.6 L309.4 781.6 L312.3 782.8 L314.1 783.7 L315.8 784.6 L317.3 785.6 L318.8 786.7 L320.2 787.8 L321.4 789.1 L322.6 790.4 L323.8 791.8 L324.8 793.2 L325.8 794.8 L326.7 796.5 L327.6 798.3 L328.4 800.3 L329.1 802.3 L329.8 804.5 L330.5 806.9 L331.1 809.4 L331.7 812.1 L332.2 815.0 L332.7 818.1 L333.2 821.3 L333.7 824.8 L334.1 828.6 L334.5 832.6 L334.8 836.9 L334.8 836.9" fill="none" stroke="#ff0000" stroke-width="3.90" stroke-linejoin="round" stroke-dasharray="36.4 21.9"/>
<path d="M339.2 836.9 L339.2 652.4" fill="none" stroke="#ff0000" stroke-width="3.90" stroke-linejoin="round" stroke-dasharray="36.4 21.9"/>
<path d="M343.1 652.4 L343.2 656.8 L343.4 664.1 L343.7 670.9 L343.9 677.2 L344.2 683.2 L344.5 688.8 L344.8 694.0 L345.1 698.9 L345.4 703.5 L345.8 707.8 L346.2 711.8 L346.6 715.5 L347.0 719.0 L347.5 722.3 L348.0 725.4 L348.5 728.3 L349.1 731.0 L349.7 733.5 L350.4 735.8 L351.1 738.0 L351.9 740.1 L352.7 742.0 L353.5 743.8 L354.4 745.5 L355.4 747.1 L356.5 748.6 L357.6 750.0 L358.8 751.3 L360.1 752.5 L361.4 753.7 L362.9 754.7 L364.5 755.7 L366.1 756.7 L367.9 757.5 L374.1 759.9 L380.3 761.5 L386.4 762.7 L392.6 763.6 L398.8 764.3 L405.0 764.9 L411.1 765.4 L417.3 765.8 L423.5 766.1 L429.7 766.4 L435.8 766.7 L442.0 767.0 L448.2 767.2 L454.3 767.4 L460.5 767.5 L466.7 767.7 L472.9 767.8 L479.0 768.0 L485.2 768.1 L491.4 768.2 L497.6 768.3 L503.7 768.4 L509.9 768.5 L516.1 768.6 L522.3 768.7 L528.4 768.8 L534.6 768.8 L540.8 768.9 L546.9 769.0" fill="none" stroke="#ff0000" stroke-width="3.90" stroke-linejoin="round" stroke-dasharray="36.4 21.9"/>
<path d="M241.1 773.6 L244.0 773.7 L246.9 773.8 L249.8 774.0 L252.7 774.1 L255.5 774.3 L258.4 774.4 L261.3 774.6 L264.2 774.8 L267.1 775.0 L269.9 775.2 L272.8 775.4 L275.7 775.7 L278.6 776.0 L281.5 776.3 L284.3 776.6 L287.2 777.0 L290.1 777.4 L293.0 777.9 L295.9 778.5 L298.7 779.1 L301.6 779.8 L304.5 780.6 L307.4 781.6 L310.3 782.8 L312.0 783.7 L313.7 784.6 L315.3 785.6 L316.7 786.7 L318.1 787.8 L319.4 789.1 L320.6 790.4 L321.7 791.7 L322.8 793.2 L323.7 794.8 L324.7 796.5 L325.5 798.3 L326.3 800.3 L327.1 802.3 L327.8 804.5 L328.4 806.9 L329.1 809.4 L329.6 812.1 L330.2 815.0 L330.7 818.0 L331.2 821.3 L331.6 824.8 L332.0 828.6 L332.4 832.6 L332.8 836.9 L332.8 836.9" fill="none" stroke="#000000" stroke-width="3.90" stroke-linejoin="round" stroke-dasharray="29.1 10.9 7.3 10.9"/>
<path d="M336.7 836.9 L336.7 652.4" fill="none" stroke="#000000" stroke-width="3.90" stroke-linejoin="round" stroke-dasharray="29.1 10.9 7.3 10.9"/>
<path d="M341.1 652.4 L341.2 656.8 L341.4 664.1 L341.6 670.9 L341.9 677.2 L342.1 683.2 L342.4 688.8 L342.7 694.0 L343.0 698.9 L343.4 703.5 L343.7 707.8 L344.1 711.8 L344.5 715.5 L345.0 719.0 L345.4 722.3 L345.9 725.4 L346.5 728.3 L347.1 730.9 L347.7 733.5 L348.3 735.8 L349.0 738.0 L349.8 740.1 L350.6 742.0 L351.5 743.8 L352.4 745.5 L353.4 747.1 L354.4 748.6 L355.5 750.0 L356.7 751.3 L358.0 752.5 L359.4 753.7 L360.8 754.7 L362.4 755.7 L364.1 756.7 L365.9 757.5 L372.1 759.9 L378.3 761.5 L384.6 762.7 L390.8 763.6 L397.1 764.3 L403.3 764.9 L409.6 765.4 L415.8 765.8 L422.1 766.2 L428.3 766.5 L434.5 766.7 L440.8 767.0 L447.0 767.2 L453.3 767.4 L459.5 767.6 L465.8 767.7 L472.0 767.9 L478.3 768.0 L484.5 768.1 L490.7 768.2 L497.0 768.3 L503.2 768.4 L509.5 768.5 L515.7 768.6 L522.0 768.7 L528.2 768.8 L534.5 768.9 L540.7 768.9 L546.9 769.0" fill="none" stroke="#000000" stroke-width="3.90" stroke-linejoin="round" stroke-dasharray="29.1 10.9 7.3 10.9"/>
</g>
<g clip-path="url(#clip_c)">
<path d="M158.5 1300.2 L166.8 1300.1 L175.0 1299.8 L183.3 1299.3 L191.5 1298.7 L199.8 1297.8 L208.0 1296.7 L216.3 1295.5 L224.5 1294.1 L232.8 1292.5 L241.0 1290.7 L249.3 1288.8 L257.6 1286.7 L265.8 1284.5 L274.1 1282.1 L282.3 1279.6 L290.6 1276.9 L298.8 1274.1 L307.1 1271.2 L315.3 1268.1 L323.6 1264.9 L331.8 1261.6 L340.1 1258.2 L348.4 1254.6 L356.6 1251.0 L364.9 1247.2 L373.1 1243.4 L381.4 1239.4 L389.6 1235.4 L397.9 1231.3 L406.1 1227.1 L414.4 1222.8 L422.6 1218.4 L430.9 1214.0 L439.2 1209.5 L447.4 1205.0 L455.7 1200.4 L463.9 1195.7 L472.2 1191.0 L480.4 1186.2 L488.7 1181.4 L496.9 1176.6 L505.2 1171.7 L513.4 1166.9 L521.7 1161.9 L530.0 1157.0 L538.2 1152.0 L546.5 1147.0 L554.7 1142.1 L563.0 1137.1 L571.2 1132.1 L579.5 1127.0 L587.7 1122.0 L596.0 1117.0 L604.2 1112.1 L612.5 1107.1 L620.8 1102.1 L629.0 1097.1 L637.3 1092.2 L645.5 1087.3 L653.8 1082.4 L662.0 1077.5 L670.3 1072.7 L678.5 1067.9 L686.8 1063.1 L695.0 1058.4 L703.3 1053.7 L711.6 1049.0 L719.8 1044.4 L728.1 1039.8 L736.3 1035.2 L744.6 1030.7 L752.8 1026.3 L761.1 1021.8 L769.3 1017.5 L777.6 1013.1 L785.8 1008.9 L794.1 1004.6 L802.4 1000.4 L810.6 996.3 L818.9 992.2 L827.1 988.2 L835.4 984.2 L843.6 980.2 L851.9 976.3 L860.1 972.5 L868.4 968.6 L876.6 964.9 L884.9 961.1 L893.2 957.4 L901.4 953.8 L909.7 950.2 L917.9 946.6 L926.2 943.0 L934.4 939.5 L939.9 937.2" fill="none" stroke="#0000ff" stroke-width="4.30" stroke-linejoin="round"/>
<path d="M158.5 1300.2 L166.8 1300.1 L175.0 1299.8 L183.3 1299.3 L191.5 1298.7 L199.8 1297.8 L208.0 1296.7 L216.3 1295.5 L224.5 1294.1 L232.8 1292.5 L241.0 1290.7 L249.3 1288.8 L257.6 1286.7 L265.8 1284.5 L274.1 1282.1 L282.3 1279.6 L290.6 1276.9 L298.8 1274.1 L307.1 1271.2 L315.3 1268.1 L323.6 1264.9 L331.8 1261.6 L340.1 1258.2 L348.4 1254.6 L356.6 1251.0 L364.9 1247.2 L373.1 1243.4 L381.4 1239.4 L389.6 1235.4 L397.9 1231.3 L406.1 1227.1 L414.4 1222.8 L422.6 1218.4 L430.9 1214.0 L439.2 1209.5 L447.4 1205.0 L455.7 1200.4 L463.9 1195.7 L472.2 1191.0 L480.4 1186.2 L488.7 1181.4 L496.9 1176.6 L505.2 1171.7 L513.4 1166.9 L521.7 1161.9 L530.0 1157.0 L538.2 1152.0 L546.5 1147.0 L554.7 1142.1 L563.0 1137.1 L571.2 1132.1 L579.5 1127.0 L587.7 1122.0 L596.0 1117.0 L604.2 1112.1 L612.5 1107.1 L620.8 1102.1 L629.0 1097.1 L637.3 1092.2 L645.5 1087.3 L653.8 1082.4 L662.0 1077.5 L670.3 1072.7 L678.5 1067.9 L686.8 1063.1 L695.0 1058.4 L703.3 1053.7 L711.6 1049.0 L719.8 1044.4 L728.1 1039.8 L736.3 1035.2 L744.6 1030.7 L752.8 1026.3 L761.1 1021.8 L769.3 1017.5 L777.6 1013.1 L785.8 1008.9 L794.1 1004.6 L802.4 1000.4 L810.6 996.3 L818.9 992.2 L827.1 988.2 L835.4 984.2 L843.6 980.2 L851.9 976.3 L860.1 972.5 L868.4 968.6 L876.6 964.9 L884.9 961.1 L893.2 957.4 L901.4 953.8 L909.7 950.2 L917.9 946.6 L926.2 943.0 L934.4 939.5 L939.9 937.2" fill="none" stroke="#ff0000" stroke-width="3.90" stroke-linejoin="round" stroke-dasharray="36.4 21.9"/>
<path d="M158.5 1300.2 L166.8 1300.1 L175.0 1299.8 L183.3 1299.3 L191.5 1298.7 L199.8 1297.8 L208.0 1296.7 L216.3 1295.5 L224.5 1294.1 L232.8 1292.5 L241.0 1290.7 L249.3 1288.8 L257.6 1286.7 L265.8 1284.5 L274.1 1282.1 L282.3 1279.6 L290.6 1276.9 L298.8 1274.1 L307.1 1271.2 L315.3 1268.1 L323.6 1264.9 L331.8 1261.6 L340.1 1258.2 L348.4 1254.6 L356.6 1251.0 L364.9 1247.2 L373.1 1243.4 L381.4 1239.4 L389.6 1235.4 L397.9 1231.3 L406.1 1227.1 L414.4 1222.8 L422.6 1218.4 L430.9 1214.0 L439.2 1209.5 L447.4 1205.0 L455.7 1200.4 L463.9 1195.7 L472.2 1191.0 L480.4 1186.2 L488.7 1181.4 L496.9 1176.6 L505.2 1171.7 L513.4 1166.9 L521.7 1161.9 L530.0 1157.0 L538.2 1152.0 L546.5 1147.0 L554.7 1142.1 L563.0 1137.1 L571.2 1132.1 L579.5 1127.0 L587.7 1122.0 L596.0 1117.0 L604.2 1112.1 L612.5 1107.1 L620.8 1102.1 L629.0 1097.1 L637.3 1092.2 L645.5 1087.3 L653.8 1082.4 L662.0 1077.5 L670.3 1072.7 L678.5 1067.9 L686.8 1063.1 L695.0 1058.4 L703.3 1053.7 L711.6 1049.0 L719.8 1044.4 L728.1 1039.8 L736.3 1035.2 L744.6 1030.7 L752.8 1026.3 L761.1 1021.8 L769.3 1017.5 L777.6 1013.1 L785.8 1008.9 L794.1 1004.6 L802.4 1000.4 L810.6 996.3 L818.9 992.2 L827.1 988.2 L835.4 984.2 L843.6 980.2 L851.9 976.3 L860.1 972.5 L868.4 968.6 L876.6 964.9 L884.9 961.1 L893.2 957.4 L901.4 953.8 L909.7 950.2 L917.9 946.6 L926.2 943.0 L934.4 939.5 L939.9 937.2" fill="none" stroke="#000000" stroke-width="3.90" stroke-linejoin="round" stroke-dasharray="29.1 10.9 7.3 10.9"/>
</g>
<!-- tick labels -->
<text x="141.00" y="419.97" font-size="52.00" text-anchor="end" fill="#262626">-15</text>
<text x="141.00" y="291.48" font-size="52.00" text-anchor="end" fill="#262626">0</text>
<text x="141.00" y="162.99" font-size="52.00" text-anchor="end" fill="#262626">15</text>
<text x="141.00" y="34.50" font-size="52.00" text-anchor="end" fill="#262626">30</text>
<text x="141.00" y="836.66" font-size="52.00" text-anchor="end" fill="#262626">-2</text>
<text x="141.00" y="665.18" font-size="52.00" text-anchor="end" fill="#262626">0</text>
<text x="141.00" y="493.70" font-size="52.00" text-anchor="end" fill="#262626">2</text>
<text x="141.00" y="1296.04" font-size="52.00" text-anchor="end" fill="#262626">-2</text>
<text x="141.00" y="1124.72" font-size="52.00" text-anchor="end" fill="#262626">0</text>
<text x="141.00" y="953.40" font-size="52.00" text-anchor="end" fill="#262626">2</text>
<text x="158.50" y="1431.30" font-size="52.00" text-anchor="middle" fill="#262626">0</text>
<text x="362.80" y="1431.30" font-size="52.00" text-anchor="middle" fill="#262626">3</text>
<text x="567.10" y="1431.30" font-size="52.00" text-anchor="middle" fill="#262626">6</text>
<text x="771.40" y="1431.30" font-size="52.00" text-anchor="middle" fill="#262626">9</text>
<text x="977.70" y="1431.30" font-size="52.00" text-anchor="middle" fill="#262626">12</text>
<text x="488.30" y="60.15" font-size="37.00" text-anchor="end" fill="#262626">2.5</text>
<text x="488.30" y="128.32" font-size="37.00" text-anchor="end" fill="#262626">1.5</text>
<text x="488.30" y="196.50" font-size="37.00" text-anchor="end" fill="#262626">0.5</text>
<text transform="translate(525.50 224.10) rotate(-45)" font-size="35.00" text-anchor="end" fill="#262626">5.5</text>
<text transform="translate(618.00 224.10) rotate(-45)" font-size="35.00" text-anchor="end" fill="#262626">6.5</text>
<text transform="translate(710.50 224.10) rotate(-45)" font-size="35.00" text-anchor="end" fill="#262626">7.5</text>
<text x="225.50" y="663.30" font-size="37.00" text-anchor="end" fill="#262626">1</text>
<text x="225.50" y="716.01" font-size="37.00" text-anchor="end" fill="#262626">0</text>
<text x="225.50" y="768.73" font-size="37.00" text-anchor="end" fill="#262626">-1</text>
<text x="225.50" y="821.44" font-size="37.00" text-anchor="end" fill="#262626">-2</text>
<text x="324.55" y="884.50" font-size="37.00" text-anchor="middle" fill="#262626">10.96</text>
<text x="435.75" y="884.50" font-size="37.00" text-anchor="middle" fill="#262626">11</text>
<text x="175.20" y="421.00" font-size="51.00" text-anchor="start" fill="#000" font-weight="bold">a</text>
<text x="175.20" y="537.00" font-size="51.00" text-anchor="start" fill="#000" font-weight="bold">b</text>
<text x="175.20" y="997.00" font-size="51.00" text-anchor="start" fill="#000" font-weight="bold">c</text>
<!-- legends -->
<line x1="173.00" y1="54.60" x2="283.50" y2="54.60" stroke="#0000ff" stroke-width="4.10"/>
<text transform="translate(294.50 66.20) scale(1.090 1)" font-size="33.20" fill="#000" stroke="#000" stroke-width="0.35" font-style="italic">a</text>
<text transform="translate(313.10 76.00) scale(1.050 1)" font-size="24.50" fill="#000" stroke="#000" stroke-width="0.35">0,0</text>
<text transform="translate(314.45 47.90) scale(1.000 1)" font-size="28.70" fill="#000" stroke="#000" stroke-width="0.35">(</text>
<text transform="translate(322.70 47.20) scale(1.050 1)" font-size="24.50" fill="#000" stroke="#000" stroke-width="0.35">0</text>
<text transform="translate(336.10 47.90) scale(1.000 1)" font-size="28.70" fill="#000" stroke="#000" stroke-width="0.35">)</text>
<line x1="173.00" y1="116.70" x2="283.50" y2="116.70" stroke="#ff0000" stroke-width="4.10" stroke-dasharray="36.4 21.9"/>
<text transform="translate(294.50 128.00) scale(1.090 1)" font-size="33.20" fill="#000" stroke="#000" stroke-width="0.35" font-style="italic">a</text>
<text transform="translate(313.10 137.80) scale(1.050 1)" font-size="24.50" fill="#000" stroke="#000" stroke-width="0.35">010,010</text>
<text transform="translate(314.45 109.70) scale(1.000 1)" font-size="28.70" fill="#000" stroke="#000" stroke-width="0.35">(</text>
<text transform="translate(322.70 109.00) scale(1.050 1)" font-size="24.50" fill="#000" stroke="#000" stroke-width="0.35">0</text>
<text transform="translate(336.10 109.70) scale(1.000 1)" font-size="28.70" fill="#000" stroke="#000" stroke-width="0.35">)</text>
<line x1="651.20" y1="525.50" x2="761.00" y2="525.50" stroke="#0000ff" stroke-width="4.10"/>
<text transform="translate(772.40 537.20) scale(1.090 1)" font-size="33.20" fill="#000" stroke="#000" stroke-width="0.35" font-style="italic">a</text>
<text transform="translate(791.00 547.00) scale(1.050 1)" font-size="24.50" fill="#000" stroke="#000" stroke-width="0.35">2,2</text>
<text transform="translate(792.35 518.90) scale(1.000 1)" font-size="28.70" fill="#000" stroke="#000" stroke-width="0.35">(</text>
<text transform="translate(800.60 518.20) scale(1.050 1)" font-size="24.50" fill="#000" stroke="#000" stroke-width="0.35">1</text>
<text transform="translate(814.00 518.90) scale(1.000 1)" font-size="28.70" fill="#000" stroke="#000" stroke-width="0.35">)</text>
<line x1="651.20" y1="580.10" x2="761.00" y2="580.10" stroke="#ff0000" stroke-width="4.10" stroke-dasharray="36.4 21.9"/>
<text transform="translate(772.40 591.30) scale(1.090 1)" font-size="33.20" fill="#000" stroke="#000" stroke-width="0.35" font-style="italic">a</text>
<text transform="translate(791.00 601.10) scale(1.050 1)" font-size="24.50" fill="#000" stroke="#000" stroke-width="0.35">012,012</text>
<text transform="translate(792.35 573.00) scale(1.000 1)" font-size="28.70" fill="#000" stroke="#000" stroke-width="0.35">(</text>
<text transform="translate(800.60 572.30) scale(1.050 1)" font-size="24.50" fill="#000" stroke="#000" stroke-width="0.35">1</text>
<text transform="translate(814.00 573.00) scale(1.000 1)" font-size="28.70" fill="#000" stroke="#000" stroke-width="0.35">)</text>
<line x1="651.20" y1="635.20" x2="761.00" y2="635.20" stroke="#000000" stroke-width="4.10" stroke-dasharray="29.1 10.9 7.3 10.9"/>
<text transform="translate(772.40 645.60) scale(1.090 1)" font-size="33.20" fill="#000" stroke="#000" stroke-width="0.35" font-style="italic">a</text>
<text transform="translate(791.00 655.40) scale(1.050 1)" font-size="24.50" fill="#000" stroke="#000" stroke-width="0.35">012,012</text>
<text transform="translate(792.35 627.30) scale(1.000 1)" font-size="28.70" fill="#000" stroke="#000" stroke-width="0.35">(</text>
<text transform="translate(799.10 626.60) scale(1.420 1)" font-size="24.50" fill="#000" stroke="#000" stroke-width="0.35">−</text>
<text transform="translate(820.60 626.60) scale(1.050 1)" font-size="24.50" fill="#000" stroke="#000" stroke-width="0.35">1</text>
<text transform="translate(833.20 627.30) scale(1.000 1)" font-size="28.70" fill="#000" stroke="#000" stroke-width="0.35">)</text>
<line x1="713.00" y1="1204.20" x2="822.30" y2="1204.20" stroke="#0000ff" stroke-width="4.10"/>
<text transform="translate(833.70 1215.90) scale(1.090 1)" font-size="33.20" fill="#000" stroke="#000" stroke-width="0.35" font-style="italic">a</text>
<text transform="translate(852.30 1225.70) scale(1.050 1)" font-size="24.50" fill="#000" stroke="#000" stroke-width="0.35">2,2</text>
<text transform="translate(853.65 1197.60) scale(1.000 1)" font-size="28.70" fill="#000" stroke="#000" stroke-width="0.35">(</text>
<text transform="translate(861.90 1196.90) scale(1.050 1)" font-size="24.50" fill="#000" stroke="#000" stroke-width="0.35">2</text>
<text transform="translate(875.30 1197.60) scale(1.000 1)" font-size="28.70" fill="#000" stroke="#000" stroke-width="0.35">)</text>
<line x1="713.00" y1="1258.80" x2="822.30" y2="1258.80" stroke="#ff0000" stroke-width="4.10" stroke-dasharray="36.4 21.9"/>
<text transform="translate(833.70 1270.50) scale(1.090 1)" font-size="33.20" fill="#000" stroke="#000" stroke-width="0.35" font-style="italic">a</text>
<text transform="translate(852.30 1280.30) scale(1.050 1)" font-size="24.50" fill="#000" stroke="#000" stroke-width="0.35">012,012</text>
<text transform="translate(853.65 1252.20) scale(1.000 1)" font-size="28.70" fill="#000" stroke="#000" stroke-width="0.35">(</text>
<text transform="translate(861.90 1251.50) scale(1.050 1)" font-size="24.50" fill="#000" stroke="#000" stroke-width="0.35">2</text>
<text transform="translate(875.30 1252.20) scale(1.000 1)" font-size="28.70" fill="#000" stroke="#000" stroke-width="0.35">)</text>
<line x1="713.00" y1="1313.40" x2="822.30" y2="1313.40" stroke="#000000" stroke-width="4.10" stroke-dasharray="29.1 10.9 7.3 10.9"/>
<text transform="translate(833.70 1324.60) scale(1.090 1)" font-size="33.20" fill="#000" stroke="#000" stroke-width="0.35" font-style="italic">a</text>
<text transform="translate(852.30 1334.40) scale(1.050 1)" font-size="24.50" fill="#000" stroke="#000" stroke-width="0.35">012,012</text>
<text transform="translate(853.65 1306.30) scale(1.000 1)" font-size="28.70" fill="#000" stroke="#000" stroke-width="0.35">(</text>
<text transform="translate(860.40 1305.60) scale(1.420 1)" font-size="24.50" fill="#000" stroke="#000" stroke-width="0.35">−</text>
<text transform="translate(881.90 1305.60) scale(1.050 1)" font-size="24.50" fill="#000" stroke="#000" stroke-width="0.35">2</text>
<text transform="translate(894.50 1306.30) scale(1.000 1)" font-size="28.70" fill="#000" stroke="#000" stroke-width="0.35">)</text>
<!-- axis labels -->
<g>
<text transform="translate(299.50 1488.00) scale(0.960 1)" font-size="53.00" fill="#262626">Ω</text>
<text transform="translate(338.00 1496.00) scale(1.000 1)" font-size="37.00" fill="#262626" font-style="italic">π</text>
<text transform="translate(364.00 1499.40) scale(1.000 1)" font-size="76.00" fill="#262626">/</text>
<text transform="translate(388.80 1488.50) scale(1.000 1)" font-size="55.00" fill="#262626">(</text>
<text transform="translate(407.00 1488.00) scale(1.050 1)" font-size="49.00" fill="#262626">2</text>
<text transform="translate(433.00 1488.50) scale(1.060 1)" font-size="50.00" fill="#262626" font-style="italic">π</text>
<text transform="translate(463.30 1488.50) scale(1.000 1)" font-size="55.00" fill="#262626">)</text>
<text transform="translate(502.30 1488.50) scale(1.000 1)" font-size="55.00" fill="#262626">(</text>
<text x="523.50" y="1488.00" font-size="49.00" fill="#262626" textLength="105.5" lengthAdjust="spacingAndGlyphs">units</text>
<text x="648.00" y="1488.00" font-size="49.00" fill="#262626" textLength="42.5" lengthAdjust="spacingAndGlyphs">of</text>
<text x="706.00" y="1488.00" font-size="49.00" fill="#262626" textLength="106.5" lengthAdjust="spacingAndGlyphs">MHz</text>
<text transform="translate(813.80 1488.50) scale(1.000 1)" font-size="55.00" fill="#262626">)</text>
</g>
<g transform="translate(38 1024.8) rotate(-90)">
<text x="-2.00" y="0.00" font-size="49.00" fill="#262626" textLength="228.5" lengthAdjust="spacingAndGlyphs">Scattering</text>
<text x="243.00" y="0.00" font-size="49.00" fill="#262626" textLength="136.5" lengthAdjust="spacingAndGlyphs">length</text>
<text transform="translate(399.60 0.50) scale(1.000 1)" font-size="55.00" fill="#262626">(</text>
<text x="420.00" y="0.00" font-size="49.00" fill="#262626" textLength="105.5" lengthAdjust="spacingAndGlyphs">units</text>
<text x="546.60" y="0.00" font-size="49.00" fill="#262626" textLength="42.5" lengthAdjust="spacingAndGlyphs">of</text>
<text transform="translate(605.50 0.00) scale(1.120 1)" font-size="49.00" fill="#262626" font-style="italic">r</text>
<text transform="translate(627.30 8.00) scale(1.000 1)" font-size="37.50" fill="#262626">0</text>
<text transform="translate(648.30 0.50) scale(1.000 1)" font-size="55.00" fill="#262626">)</text>
</g>
</svg></body></html>
